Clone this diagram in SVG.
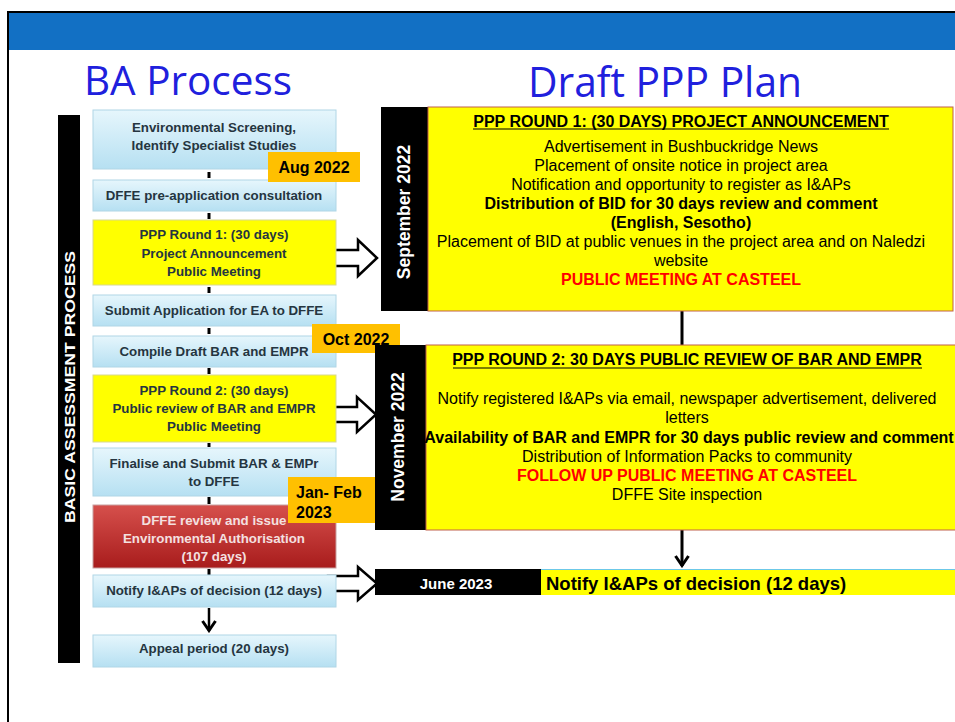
<svg xmlns="http://www.w3.org/2000/svg" width="955" height="722" viewBox="0 0 955 722">
<defs>
<linearGradient id="gBlue" x1="0" y1="0" x2="0" y2="1"><stop offset="0" stop-color="#E6F6FC"/><stop offset="1" stop-color="#B6E0F2"/></linearGradient>
<linearGradient id="gRed" x1="0" y1="0" x2="0" y2="1"><stop offset="0" stop-color="#D6504C"/><stop offset="1" stop-color="#A81C1C"/></linearGradient>
<marker id="chev" viewBox="0 0 14 16" refX="12" refY="8" markerWidth="14" markerHeight="16" markerUnits="userSpaceOnUse" orient="auto">
<path d="M2,1.5 L11.5,8 L2,14.5" fill="none" stroke="#000" stroke-width="3"/>
</marker>
<style>
.lbox{fill:url(#gBlue);stroke:#B0D6E6;stroke-width:1}
.ybox{fill:#FFFF00;stroke:#D8D890;stroke-width:1}
.rbox{fill:url(#gRed);stroke:#C8A0A0;stroke-width:1}
.lt{font-family:"Liberation Sans",Arial,sans-serif;font-weight:bold;font-size:13.3px;fill:#253540;text-anchor:middle}
.lw{fill:#F4E0E0}
.date{fill:#FFC000}
.dt{font-family:"Liberation Sans",Arial,sans-serif;font-weight:bold;font-size:16px;fill:#000}
.rt{font-family:"Liberation Sans",Arial,sans-serif;font-size:16px;fill:#000;text-anchor:middle}
.b{font-weight:bold}
.red{fill:#FF0000;font-weight:bold}
.vt{font-family:"Liberation Sans",Arial,sans-serif;font-weight:bold;font-size:17.5px;fill:#FFF;text-anchor:middle}
.tick{stroke:#000;stroke-width:3}
.harrow{fill:#FFF;stroke:#000;stroke-width:2.5;stroke-linejoin:miter}
.ttl{font-family:"Open Sans","Noto Sans",sans-serif;fill:#2020DD}
</style>
</defs>
<rect x="0" y="0" width="955" height="722" fill="#FFF"/>
<g id="frame">
<rect x="8" y="12" width="947" height="38" fill="#1270C4"/>
<line x1="7" y1="12" x2="955" y2="12" stroke="#000" stroke-width="2"/>
<line x1="8" y1="12" x2="8" y2="722" stroke="#000" stroke-width="2"/>
</g>
<text class="ttl" x="188" y="95" font-size="40" text-anchor="middle" textLength="208" lengthAdjust="spacingAndGlyphs">BA Process</text>
<text class="ttl" x="665" y="97" font-size="42" text-anchor="middle" textLength="274" lengthAdjust="spacingAndGlyphs">Draft PPP Plan</text>

<g id="ba-label">
<rect x="58" y="115" width="22" height="548" fill="#000"/>
<text x="0" y="0" transform="translate(75,387) rotate(-90)" font-family="'Liberation Sans',Arial,sans-serif" font-weight="bold" font-size="14" fill="#FFF" text-anchor="middle" textLength="272" lengthAdjust="spacingAndGlyphs">BASIC ASSESSMENT PROCESS</text>
</g>

<g id="connectors">
<line class="tick" x1="209" y1="172" x2="209" y2="178"/>
<line class="tick" x1="209" y1="213" x2="209" y2="219"/>
<line class="tick" x1="209" y1="287" x2="209" y2="293"/>
<line class="tick" x1="209" y1="328" x2="209" y2="334"/>
<line class="tick" x1="209" y1="368" x2="209" y2="374"/>
<line class="tick" x1="209" y1="443" x2="209" y2="447"/>
<line class="tick" x1="209" y1="497" x2="209" y2="504"/>
<line class="tick" x1="209" y1="569" x2="209" y2="575"/>
<line x1="209" y1="608" x2="209" y2="631" stroke="#000" stroke-width="2.5" marker-end="url(#chev)"/>
<path class="harrow" d="M328,250 H358 V240 L377,258 L358,276 V266 H328 Z"/>
<path class="harrow" d="M326,407 H357 V397 L376,414.5 L357,432 V422 H326 Z"/>
<path class="harrow" d="M328,576 H358 V567 L377,583.5 L358,600 V591 H328 Z"/>
<line x1="682" y1="311" x2="682" y2="345" stroke="#000" stroke-width="3"/>
<line x1="682" y1="530" x2="682" y2="566" stroke="#000" stroke-width="3" marker-end="url(#chev)"/>
</g>

<g id="n1"><rect class="lbox" x="93" y="110" width="243" height="59"/>
<text class="lt" x="214" y="132">Environmental Screening,</text>
<text class="lt" x="214" y="150">Identify Specialist Studies</text></g>
<g id="n2"><rect class="lbox" x="93" y="180" width="243" height="31"/>
<text class="lt" x="214" y="200">DFFE pre-application consultation</text></g>
<g id="n3"><rect class="ybox" x="93" y="220" width="243" height="65"/>
<text class="lt" x="214" y="239">PPP Round 1: (30 days)</text>
<text class="lt" x="214" y="258">Project Announcement</text>
<text class="lt" x="214" y="276">Public Meeting</text></g>
<g id="n4"><rect class="lbox" x="93" y="295" width="243" height="31"/>
<text class="lt" x="214" y="315">Submit Application for EA to DFFE</text></g>
<g id="n5"><rect class="lbox" x="93" y="336" width="243" height="31"/>
<text class="lt" x="214" y="356">Compile Draft BAR and EMPR</text></g>
<g id="n6"><rect class="ybox" x="93" y="375" width="243" height="67"/>
<text class="lt" x="214" y="395">PPP Round 2: (30 days)</text>
<text class="lt" x="214" y="413">Public review of BAR and EMPR</text>
<text class="lt" x="214" y="431">Public Meeting</text></g>
<g id="n7"><rect class="lbox" x="93" y="448" width="243" height="48"/>
<text class="lt" x="214" y="468">Finalise and Submit BAR &amp; EMPr</text>
<text class="lt" x="214" y="486">to DFFE</text></g>
<g id="n8"><rect class="rbox" x="93" y="505" width="243" height="63"/>
<text class="lt lw" x="214" y="525">DFFE review and issue</text>
<text class="lt lw" x="214" y="543">Environmental Authorisation</text>
<text class="lt lw" x="214" y="561">(107 days)</text></g>
<g id="n9"><rect class="lbox" x="93" y="575" width="243" height="32"/>
<text class="lt" x="214" y="595">Notify I&amp;APs of decision (12 days)</text></g>
<g id="n10"><rect class="lbox" x="93" y="635" width="243" height="32"/>
<text class="lt" x="214" y="653">Appeal period (20 days)</text></g>

<g id="d-aug"><rect class="date" x="268" y="152" width="92" height="30"/>
<text class="dt" x="314" y="173" text-anchor="middle">Aug 2022</text></g>

<g id="r1">
<rect x="381" y="107" width="47" height="204" fill="#000"/>
<rect x="428" y="107" width="525" height="204" fill="#FFFF00" stroke="#C0604D" stroke-width="1"/>
<text class="vt" transform="translate(410,212) rotate(-90)">September 2022</text>
<text class="rt b" x="681" y="127">PPP ROUND 1: (30 DAYS) PROJECT ANNOUNCEMENT</text>
<line x1="473" y1="129" x2="889" y2="129" stroke="#000" stroke-width="1.2"/>
<text class="rt" x="681" y="152">Advertisement in Bushbuckridge News</text>
<text class="rt" x="681" y="171">Placement of onsite notice in project area</text>
<text class="rt" x="681" y="190">Notification and opportunity to register as I&amp;APs</text>
<text class="rt b" x="681" y="209">Distribution of BID for 30 days review and comment</text>
<text class="rt b" x="681" y="228">(English, Sesotho)</text>
<text class="rt" x="681" y="247">Placement of BID at public venues in the project area and on Naledzi</text>
<text class="rt" x="681" y="266">website</text>
<text class="rt red" x="681" y="285">PUBLIC MEETING AT CASTEEL</text>
</g>

<g id="d-oct"><rect class="date" x="312" y="324" width="88" height="29"/>
<text class="dt" x="356" y="345" text-anchor="middle">Oct 2022</text></g>
<g id="d-jan"><rect class="date" x="288" y="477" width="90" height="46"/>
<text class="dt" x="296" y="498">Jan- Feb</text>
<text class="dt" x="296" y="518">2023</text></g>

<g id="r2">
<rect x="375" y="345" width="51" height="185" fill="#000"/>
<rect x="426" y="345" width="535" height="185" fill="#FFFF00" stroke="#C0604D" stroke-width="1"/>
<text class="vt" transform="translate(404,437) rotate(-90)">November 2022</text>
<text class="rt b" x="687" y="365">PPP ROUND 2: 30 DAYS PUBLIC REVIEW OF BAR AND EMPR</text>
<line x1="453" y1="368" x2="922" y2="368" stroke="#000" stroke-width="1.2"/>
<text class="rt" x="687" y="404">Notify registered I&amp;APs via email, newspaper advertisement, delivered</text>
<text class="rt" x="687" y="423">letters</text>
<text class="rt b" x="689" y="443">Availability of BAR and EMPR for 30 days public review and comment</text>
<text class="rt" x="687" y="462">Distribution of Information Packs to community</text>
<text class="rt red" x="687" y="481">FOLLOW UP PUBLIC MEETING AT CASTEEL</text>
<text class="rt" x="687" y="500">DFFE Site inspection</text>
</g>

<g id="r3">
<rect x="375" y="569" width="166" height="26" fill="#000"/>
<rect x="541" y="569" width="420" height="26" fill="#FFFF00"/>
<line x1="541" y1="569.5" x2="955" y2="569.5" stroke="#6CC8E8" stroke-width="1"/>
<text x="456" y="589" font-family="'Liberation Sans',Arial,sans-serif" font-weight="bold" font-size="15" fill="#FFF" text-anchor="middle">June 2023</text>
<text x="546" y="590" font-family="'Liberation Sans',Arial,sans-serif" font-weight="bold" font-size="18.5" fill="#000">Notify I&amp;APs of decision (12 days)</text>
</g>
</svg>
